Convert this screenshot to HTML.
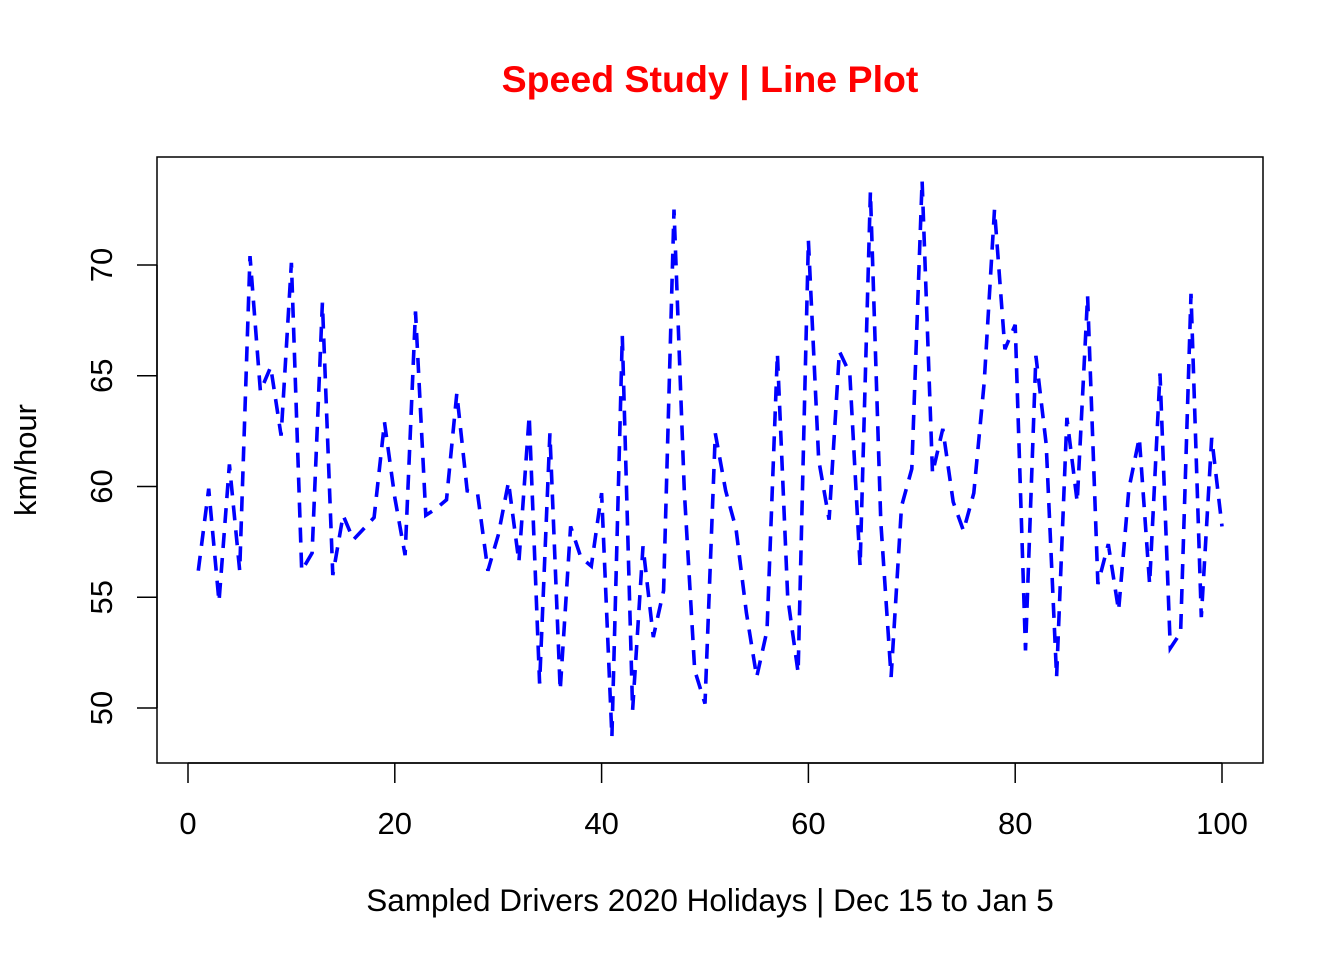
<!DOCTYPE html>
<html><head><meta charset="utf-8"><style>
body{margin:0;background:#fff}
svg{display:block;font-family:"Liberation Sans",Arial,sans-serif}
</style></head><body>
<svg id="chart" width="1344" height="960">
<text x="710" y="92" text-anchor="middle" font-size="37.5" font-weight="bold" fill="#ff0000">Speed Study | Line Plot</text>
<rect x="157" y="157" width="1106" height="606" fill="none" stroke="#000" stroke-width="1.5"/>
<text x="710" y="911" text-anchor="middle" font-size="31.5">Sampled Drivers 2020 Holidays | Dec 15 to Jan 5</text>
<text transform="translate(36,460) rotate(-90)" text-anchor="middle" font-size="31">km/hour</text>
<g id="xaxis"></g>
<g id="yaxis"></g>
<path id="line" fill="none" stroke="#0000ff" stroke-width="3.6" stroke-dasharray="15 10"/>
</svg>
<script>
const speeds=[56.2,59.9,54.8,61,56.2,70.4,64.3,65.4,62.3,70.1,56.2,57,68.3,56,58.7,57.6,58.1,58.6,62.9,59.5,56.9,67.9,58.7,59,59.4,64.2,59.8,59.7,56.2,57.8,60.2,56.6,63.2,51.1,62.4,50.8,58.2,56.8,56.4,59.7,48.7,66.8,49.9,57.3,53.2,55.3,72.5,59.8,51.7,50.2,62.4,59.8,58.1,54.3,51.4,53.5,66,55,51.6,71.1,61.2,58.5,66.1,65.1,56.4,73.3,58.4,51.4,59.1,60.8,73.8,60.6,62.6,59.3,58,59.7,64.7,72.5,66.2,67.3,52.6,65.9,61.9,51.4,63.1,59.3,68.6,55.6,57.4,54.4,59.9,62.2,55.6,65.1,52.7,53.4,68.7,54.1,62.2,58.2];
const xTicks=[0,20,40,60,80,100];
const yTicks=[50,55,60,65,70];
const NS="http://www.w3.org/2000/svg";
function xs(v){return 188+(v)*10.34;}
function ys(v){return 708-(v-50)*22.15;}
let d="";
speeds.forEach((v,i)=>{d+=(i?"L":"M")+xs(i+1).toFixed(1)+","+ys(v).toFixed(1);});
document.getElementById("line").setAttribute("d",d);
const xa=document.getElementById("xaxis");
let l=document.createElementNS(NS,"line");
l.setAttribute("x1",xs(xTicks[0]));l.setAttribute("x2",xs(xTicks[xTicks.length-1]));
l.setAttribute("y1",763);l.setAttribute("y2",763);l.setAttribute("stroke","#000");l.setAttribute("stroke-width","1.5");


xa.appendChild(l);
xTicks.forEach(t=>{
 const tk=document.createElementNS(NS,"line");
 tk.setAttribute("x1",xs(t));tk.setAttribute("x2",xs(t));tk.setAttribute("y1",763);tk.setAttribute("y2",783);tk.setAttribute("stroke","#000");tk.setAttribute("stroke-width","1.5");
 
 
 xa.appendChild(tk);
 const tx=document.createElementNS(NS,"text");
 tx.setAttribute("x",xs(t));tx.setAttribute("y",834);tx.setAttribute("text-anchor","middle");tx.setAttribute("font-size","31");
 tx.textContent=t;
 
 
 xa.appendChild(tx);
});
const ya=document.getElementById("yaxis");
let l2=document.createElementNS(NS,"line");
l2.setAttribute("x1",157);l2.setAttribute("x2",157);
l2.setAttribute("y1",ys(yTicks[0]));l2.setAttribute("y2",ys(yTicks[yTicks.length-1]));l2.setAttribute("stroke","#000");l2.setAttribute("stroke-width","1.5");


ya.appendChild(l2);
yTicks.forEach(t=>{
 const tk=document.createElementNS(NS,"line");
 tk.setAttribute("x1",137);tk.setAttribute("x2",157);tk.setAttribute("y1",ys(t));tk.setAttribute("y2",ys(t));tk.setAttribute("stroke","#000");tk.setAttribute("stroke-width","1.5");
 
 
 ya.appendChild(tk);
 const tx=document.createElementNS(NS,"text");
 tx.setAttribute("transform","translate(112,"+ys(t)+") rotate(-90)");tx.setAttribute("text-anchor","middle");tx.setAttribute("font-size","31");
 tx.textContent=t;
 
 
 ya.appendChild(tx);
});
</script>
</body></html>
